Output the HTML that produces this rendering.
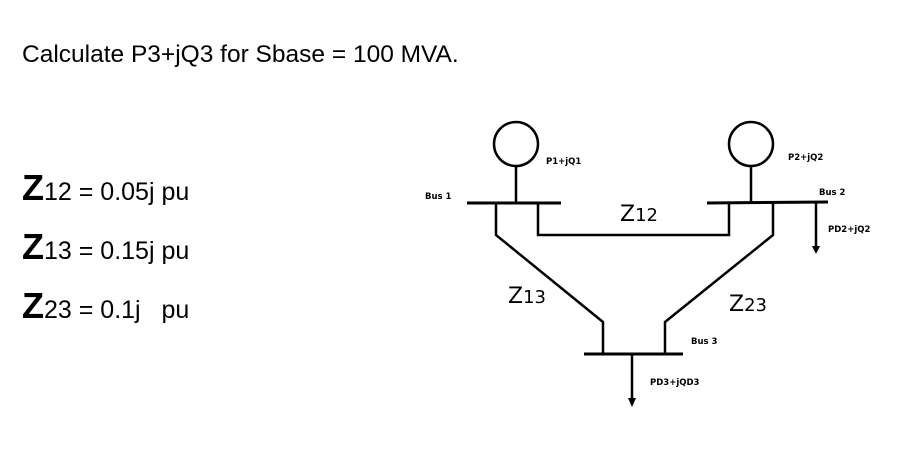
<!DOCTYPE html>
<html><head><style>
body{margin:0;background:#fff;width:910px;height:454px;overflow:hidden;position:relative}
</style></head><body>
<svg width="910" height="454" style="position:absolute;left:0;top:0">
<g font-family="Liberation Sans, sans-serif" fill="#000">
<text x="22" y="62" font-size="24.5">Calculate P3+jQ3 for Sbase = 100 MVA.</text>
<text x="22" y="200" font-size="25"><tspan font-size="36" font-weight="bold">Z</tspan>12 = 0.05j pu</text>
<text x="22" y="259" font-size="25"><tspan font-size="36" font-weight="bold">Z</tspan>13 = 0.15j pu</text>
<text x="22" y="318" font-size="25"><tspan font-size="36" font-weight="bold">Z</tspan>23 = 0.1j &#160; pu</text>
</g>
<g fill="none" stroke="#000" stroke-width="2.5">
<circle cx="516" cy="144" r="22"/>
<circle cx="751" cy="144" r="22"/>
<line x1="516" y1="166" x2="516" y2="203"/>
<line x1="751" y1="166" x2="751" y2="202"/>
<line x1="467" y1="203" x2="561" y2="203" stroke-width="3"/>
<line x1="707" y1="203" x2="828" y2="202" stroke-width="3"/>
<line x1="584" y1="354" x2="683" y2="354" stroke-width="3"/>
<polyline points="538,203 538,235 729,235 729,203"/>
<polyline points="496,203 496,235 603,322 603,354"/>
<polyline points="773,202 773,235 665,322 665,354"/>
<line x1="816" y1="202" x2="816" y2="248"/>
<line x1="632" y1="354" x2="632" y2="400"/>
</g>
<polygon points="812,246 820,246 816,254" fill="#000"/>
<polygon points="628,398 636,398 632,407" fill="#000"/>
<g font-family="DejaVu Sans, sans-serif" font-weight="bold" font-size="8.5" fill="#000">
<text x="425" y="199">Bus 1</text>
<text x="546" y="164">P1+jQ1</text>
<text x="788" y="160">P2+jQ2</text>
<text x="819" y="195">Bus 2</text>
<text x="828" y="232">PD2+jQ2</text>
<text x="691" y="344">Bus 3</text>
<text x="650" y="385">PD3+jQD3</text>
</g>
<g font-family="DejaVu Sans, sans-serif" fill="#000">
<text x="620" y="221"><tspan font-size="22">Z</tspan><tspan font-size="18">12</tspan></text>
<text x="508" y="303"><tspan font-size="22">Z</tspan><tspan font-size="18">13</tspan></text>
<text x="729" y="311"><tspan font-size="22">Z</tspan><tspan font-size="18">23</tspan></text>
</g>
</svg>
</body></html>
